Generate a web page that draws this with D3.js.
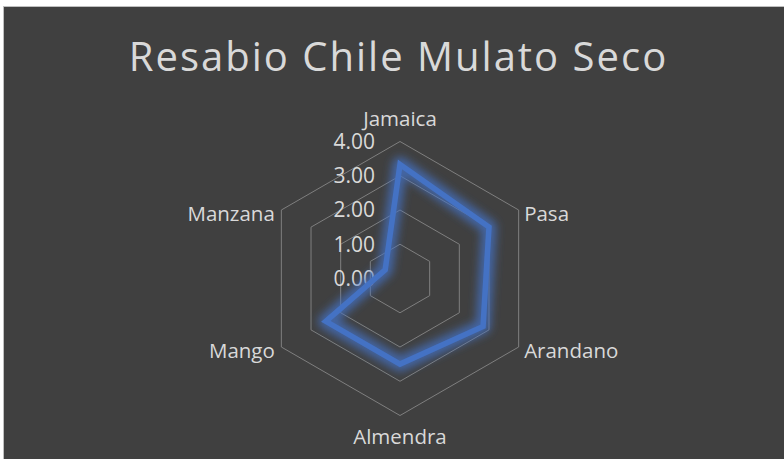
<!DOCTYPE html>
<html>
<head>
<meta charset="utf-8">
<script src="https://cdn.jsdelivr.net/npm/d3@7"></script>
<style>
  body { margin: 0; background: #ffffff; }
  svg { display: block; }
</style>
</head>
<body>
<div id="chart"></div>
<script>
// datos
var categorias = ["Jamaica", "Pasa", "Arandano", "Almendra", "Mango", "Manzana"];
var valores = [3.33, 3.0, 2.8, 2.5, 2.5, 0.5];
var ticks = [0, 1, 2, 3, 4];
var titulo = "Resabio Chile Mulato Seco";

var width = 784, height = 459;
var cx = 400, cy = 278.5, radio = 137;

var colorFondo = "#404040";
var colorTexto = "#d9d9d9";
var colorRejilla = "#7f7f7f";
var colorLinea = "#4472c4";

var svg = d3.select("#chart").append("svg")
    .attr("width", width)
    .attr("height", height);

// filtro del brillo
var defs = svg.append("defs");
var glow = defs.append("filter").attr("id", "glow")
    .attr("x", "-20%").attr("y", "-20%").attr("width", "140%").attr("height", "140%");
glow.append("feGaussianBlur").attr("stdDeviation", 4.5);

svg.append("rect")
    .attr("x", 3.5).attr("y", 6.5)
    .attr("width", width).attr("height", height)
    .attr("fill", colorFondo)
    .attr("stroke", "#bfbfbf")
    .attr("stroke-width", 1);

svg.append("text")
    .attr("x", 398.5)
    .attr("y", 71)
    .attr("text-anchor", "middle")
    .attr("font-family", "Open Sans")
    .attr("font-size", "40px")
    .attr("letter-spacing", "2px")
    .attr("fill", colorTexto)
    .text(titulo);

var r = d3.scaleLinear().domain([0, 4]).range([0, radio]);
var angulo = d3.scalePoint().domain(categorias).range([0, 2 * Math.PI * 5 / 6]);

function punto(cat, v) {
    var a = angulo(cat);
    return [cx + r(v) * Math.sin(a), cy - r(v) * Math.cos(a)];
}

var g = svg.append("g");

// hexagonos de la rejilla
var linea = d3.line();
g.selectAll("path.grid")
    .data(ticks.filter(function (t) { return t > 0; }))
    .enter()
    .append("path")
    .attr("class", "grid")
    .attr("d", function (t) {
        return linea(categorias.map(function (c) { return punto(c, t); })) + "Z";
    })
    .attr("fill", "none")
    .attr("stroke", colorRejilla)
    .attr("stroke-width", 1);

// etiquetas del eje
g.selectAll("text.tick")
    .data(ticks)
    .enter()
    .append("text")
    .attr("class", "tick")
    .attr("x", cx - 25)
    .attr("y", function (d) { return cy - r(d); })
    .attr("dy", "0.35em")
    .attr("text-anchor", "end")
    .attr("font-family", "Open Sans")
    .attr("font-size", "21px")
    .attr("fill", colorTexto)
    .text(function (d) { return d3.format(".2f")(d); });

// serie
var pts = categorias.map(function (c, i) { return punto(c, valores[i]); });
g.append("path")
    .attr("d", linea(pts) + "Z")
    .attr("fill", "none")
    .attr("stroke", colorLinea)
    .attr("stroke-width", 15)
    .attr("stroke-opacity", 0.75)
    .attr("stroke-linejoin", "round")
    .attr("filter", "url(#glow)");
g.append("path")
    .attr("d", linea(pts) + "Z")
    .attr("fill", "none")
    .attr("stroke", colorLinea)
    .attr("stroke-width", 5.5)
    .attr("stroke-linejoin", "miter");

// etiquetas de categorias
g.selectAll("text.cat")
    .data(categorias)
    .enter()
    .append("text")
    .attr("class", "cat")
    .attr("x", function (d) {
        var p = punto(d, 4), s = Math.sin(angulo(d));
        if (Math.abs(s) < 0.01) return p[0];
        return s > 0 ? p[0] + 5.5 : p[0] - 6.5;
    })
    .attr("y", function (d) {
        var p = punto(d, 4), c = Math.cos(angulo(d));
        if (Math.abs(Math.sin(angulo(d))) < 0.01) return c > 0 ? p[1] - 16 : p[1] + 28;
        return p[1] + 3.5;
    })
    .attr("dy", function (d) {
        return Math.abs(Math.sin(angulo(d))) < 0.01 ? 0 : "0.35em";
    })
    .attr("text-anchor", function (d) {
        var s = Math.sin(angulo(d));
        if (Math.abs(s) < 0.01) return "middle";
        return s > 0 ? "start" : "end";
    })
    .attr("font-family", "Open Sans")
    .attr("font-size", "20.5px")
    .attr("fill", colorTexto)
    .text(function (d) { return d; });
</script>
</body>
</html>
